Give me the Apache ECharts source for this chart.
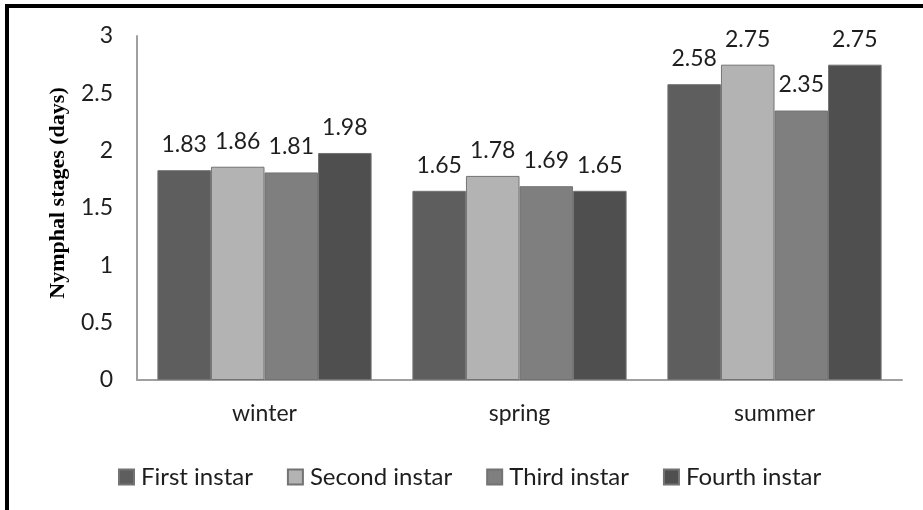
<!DOCTYPE html>
<html>
<head>
<meta charset="utf-8">
<script src="https://cdn.jsdelivr.net/npm/echarts@6/dist/echarts.min.js"></script>
<style>
  html, body { margin: 0; padding: 0; background: #fff; }
  #chart { width: 923px; height: 510px; }
</style>
</head>
<body>
<div id="chart"></div>
<script>
const seasons = ["winter", "spring", "summer"];
const instars = ["First instar", "Second instar", "Third instar", "Fourth instar"];
const firstInstar = [1.83, 1.65, 2.58];
const secondInstar = [1.86, 1.78, 2.75];
const thirdInstar = [1.81, 1.69, 2.35];
const fourthInstar = [1.98, 1.65, 2.75];
const yTicks = [0, 0.5, 1, 1.5, 2, 2.5, 3];

const barColors = ["#5e5e5e", "#b3b3b3", "#7f7f7f", "#4f4f4f"];
const labelFont = "Lato, 'Open Sans', sans-serif";

let myChart = echarts.init(document.getElementById("chart"));

const makeSeries = (name, data, i) => ({
  name: name,
  type: "bar",
  data: data,
  barGap: "0%",
  barCategoryGap: "16%",
  itemStyle: {
    color: barColors[i],
    borderColor: "#737373",
    borderWidth: 1,
  },
  label: {
    show: true,
    position: "top",
    distance: 14,
    color: "#1e1e1e",
    fontSize: 23,
    fontFamily: labelFont,
    formatter: (p) => p.value.toFixed(2),
  },
});

let option = {
  animation: false,
  grid: {
    left: 137,
    right: 21,
    top: 36,
    bottom: 130,
  },
  legend: {
    data: instars,
    left: 118,
    top: 465,
    padding: 0,
    itemWidth: 15,
    itemHeight: 15,
    itemGap: 34,
    icon: "rect",
    textStyle: {
      color: "#1e1e1e",
      fontSize: 24,
      fontFamily: labelFont,
      padding: [0, 0, 0, 2],
    },
  },
  xAxis: {
    type: "category",
    data: seasons,
    axisLine: { lineStyle: { color: "#a0a0a0", width: 2 } },
    axisTick: { show: false },
    axisLabel: {
      color: "#1e1e1e",
      fontSize: 23,
      fontFamily: labelFont,
      margin: 22,
    },
  },
  yAxis: {
    type: "value",
    min: yTicks[0],
    max: yTicks[yTicks.length - 1],
    interval: 0.5,
    name: "Nymphal stages (days)",
    nameLocation: "middle",
    nameRotate: 90,
    nameGap: 68,
    nameTextStyle: {
      color: "#000",
      fontSize: 22,
      fontWeight: "bold",
      fontFamily: "'Liberation Serif', 'DejaVu Serif', serif",
      padding: [0, 0, 0, 30],
    },
    splitLine: { show: false },
    axisTick: { show: false },
    axisLine: { show: true, lineStyle: { color: "#a0a0a0", width: 2 } },
    axisLabel: {
      color: "#1e1e1e",
      fontSize: 23,
      fontFamily: labelFont,
      margin: 24,
    },
  },
  graphic: [
    {
      type: "rect",
      shape: { x: 5, y: 4, width: 923, height: 4 },
      style: { fill: "#000" },
      silent: true,
    },
    {
      type: "rect",
      shape: { x: 5, y: 4, width: 4, height: 510 },
      style: { fill: "#000" },
      silent: true,
    },
  ],
  series: [
    makeSeries(instars[0], firstInstar, 0),
    makeSeries(instars[1], secondInstar, 1),
    makeSeries(instars[2], thirdInstar, 2),
    makeSeries(instars[3], fourthInstar, 3),
  ],
};
myChart.setOption(option);
</script>
</body>
</html>
